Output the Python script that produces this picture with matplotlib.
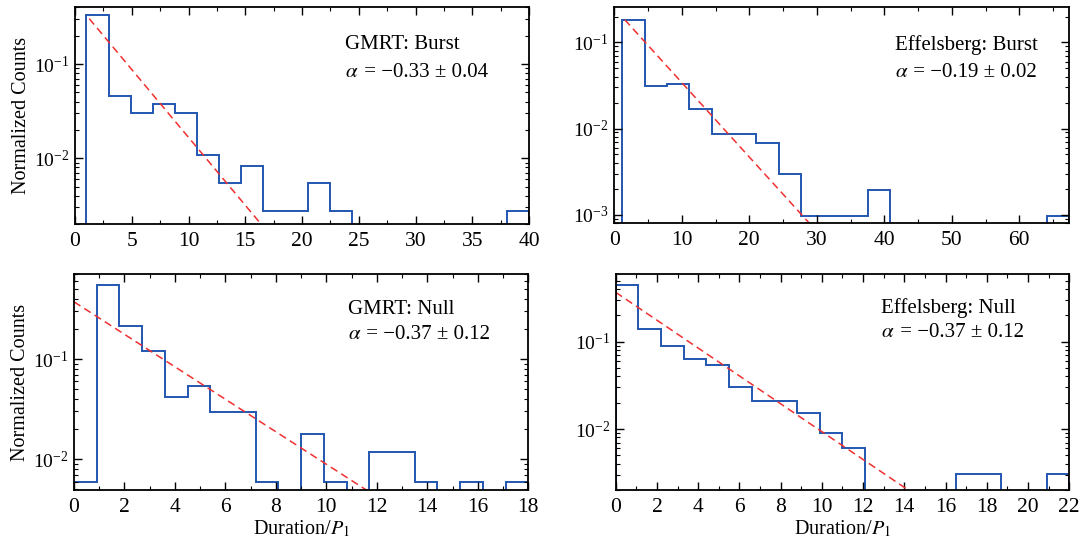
import matplotlib
matplotlib.use("Agg")
import matplotlib.pyplot as plt
import numpy as np
from matplotlib.ticker import LogLocator, MultipleLocator, NullFormatter

plt.rcParams["font.family"] = ["Liberation Serif", "DejaVu Serif"]
plt.rcParams["mathtext.fontset"] = "stix"
plt.rcParams["font.size"] = 14

# bin edges (Duration / P1) and normalized counts
gmrt_burst_edges = np.linspace(1.0, 40.0, 21)
gmrt_burst_vals = [0.329, 0.0463, 0.0301, 0.0381, 0.0301, 0.0109, 0.0055, 0.0083,
                   0.00277, 0.00277, 0.0055, 0.00277, 0, 0, 0, 0, 0, 0, 0, 0.00277]

eff_burst_edges = np.linspace(1.2, 67.4, 21)
eff_burst_vals = [0.184, 0.0314, 0.0325, 0.0168, 0.00875, 0.00875, 0.0068, 0.00294,
                  0.00097, 0.00097, 0.00097, 0.00195, 0, 0, 0, 0, 0, 0, 0, 0.00097]

gmrt_null_edges = np.linspace(0.0, 18.0, 21)
gmrt_null_vals = [0.00594, 0.547, 0.215, 0.121, 0.0418, 0.0534, 0.0296, 0.0296,
                  0.00594, 0, 0.0179, 0.00594, 0, 0.0119, 0.0119, 0.00594, 0,
                  0.00594, 0, 0.00594]

eff_null_edges = np.linspace(0.0, 22.0, 21)
eff_null_vals = [0.446, 0.141, 0.090, 0.0634, 0.0541, 0.0303, 0.0211, 0.0211,
                 0.0151, 0.0091, 0.0060, 0, 0, 0, 0, 0.00303, 0.00303, 0, 0, 0.00303]

# exponential fits: amplitude, slope, start of the line
fit_amp = [0.46, 0.25, 0.372, 0.368]
fit_slope = [-0.332, -0.199, -0.373, -0.3675]
fit_start = [1.25, 1.55, 0.0, 0.0]

titles = ["GMRT: Burst", "Effelsberg: Burst", "GMRT: Null", "Effelsberg: Null"]
alpha_txt = ["= \u22120.33 \u00b1 0.04", "= \u22120.19 \u00b1 0.02",
             "= \u22120.37 \u00b1 0.12", "= \u22120.37 \u00b1 0.12"]

xlims = [(0, 40), (0, 67.4), (0, 18), (0, 22)]
ylims = [(0.0020, 0.404), (0.0008, 0.258), (0.00494, 0.704), (0.0020, 0.596)]
x_major = [5, 10, 2, 2]
x_minor = [2.5, 5, 1, 1]

# axes rectangles in figure fraction
rects = [
    [0.0693, 0.5867, 0.4192, 0.4004],
    [0.5672, 0.5886, 0.4201, 0.3985],
    [0.0683, 0.0959, 0.4195, 0.3985],
    [0.5685, 0.0959, 0.4188, 0.3985],
]
text_x = [0.595, 0.617, 0.603, 0.586]
text_y = [(0.825, 0.70), (0.824, 0.699), (0.838, 0.718), (0.843, 0.727)]

data = [
    (gmrt_burst_edges, gmrt_burst_vals),
    (eff_burst_edges, eff_burst_vals),
    (gmrt_null_edges, gmrt_null_vals),
    (eff_null_edges, eff_null_vals),
]

fig = plt.figure(figsize=(10.83, 5.42), dpi=100)

for i, (edges, vals) in enumerate(data):
    ax = fig.add_axes(rects[i])
    ax.set_yscale("log")
    ax.stairs(vals, edges, baseline=0, fill=False, color="#2156b0", lw=1.4)

    xx = np.linspace(fit_start[i], xlims[i][1], 200)
    ax.plot(xx, fit_amp[i] * np.exp(fit_slope[i] * xx), color="#f03030",
            ls=(0, (5, 3)), lw=1.1)

    ax.set_xlim(*xlims[i])
    ax.set_ylim(*ylims[i])
    ax.xaxis.set_major_locator(MultipleLocator(x_major[i]))
    ax.xaxis.set_minor_locator(MultipleLocator(x_minor[i]))
    ax.yaxis.set_major_locator(LogLocator(base=10))
    ax.yaxis.set_minor_locator(LogLocator(base=10, subs=np.arange(2, 10)))
    ax.yaxis.set_minor_formatter(NullFormatter())
    ax.tick_params(which="both", direction="in", top=True, right=True)
    ax.tick_params(which="major", length=6, width=1.0)
    ax.tick_params(which="minor", length=3, width=0.8)
    ax.tick_params(axis="x", labelsize=15.5, pad=6)
    ax.tick_params(axis="y", labelsize=14, pad=4)
    for sp in ax.spines.values():
        sp.set_linewidth(1.3)

    ax.text(text_x[i], text_y[i][0], titles[i], transform=ax.transAxes,
            va="center", ha="left", fontsize=15)
    t = ax.text(text_x[i], text_y[i][1], r"$\alpha$", transform=ax.transAxes,
                va="center", ha="left", fontsize=15)
    ax.annotate(" " + alpha_txt[i], xy=(1, 0.5), xycoords=t,
                va="center", ha="left", fontsize=15)

    if i % 2 == 0:
        ax.set_ylabel("Normalized Counts", fontsize=14.5, labelpad=2)
    if i >= 2:
        ax.set_xlabel("Duration/$P_1$", fontsize=14.5, labelpad=1)

fig.savefig("out.png", dpi=100)
